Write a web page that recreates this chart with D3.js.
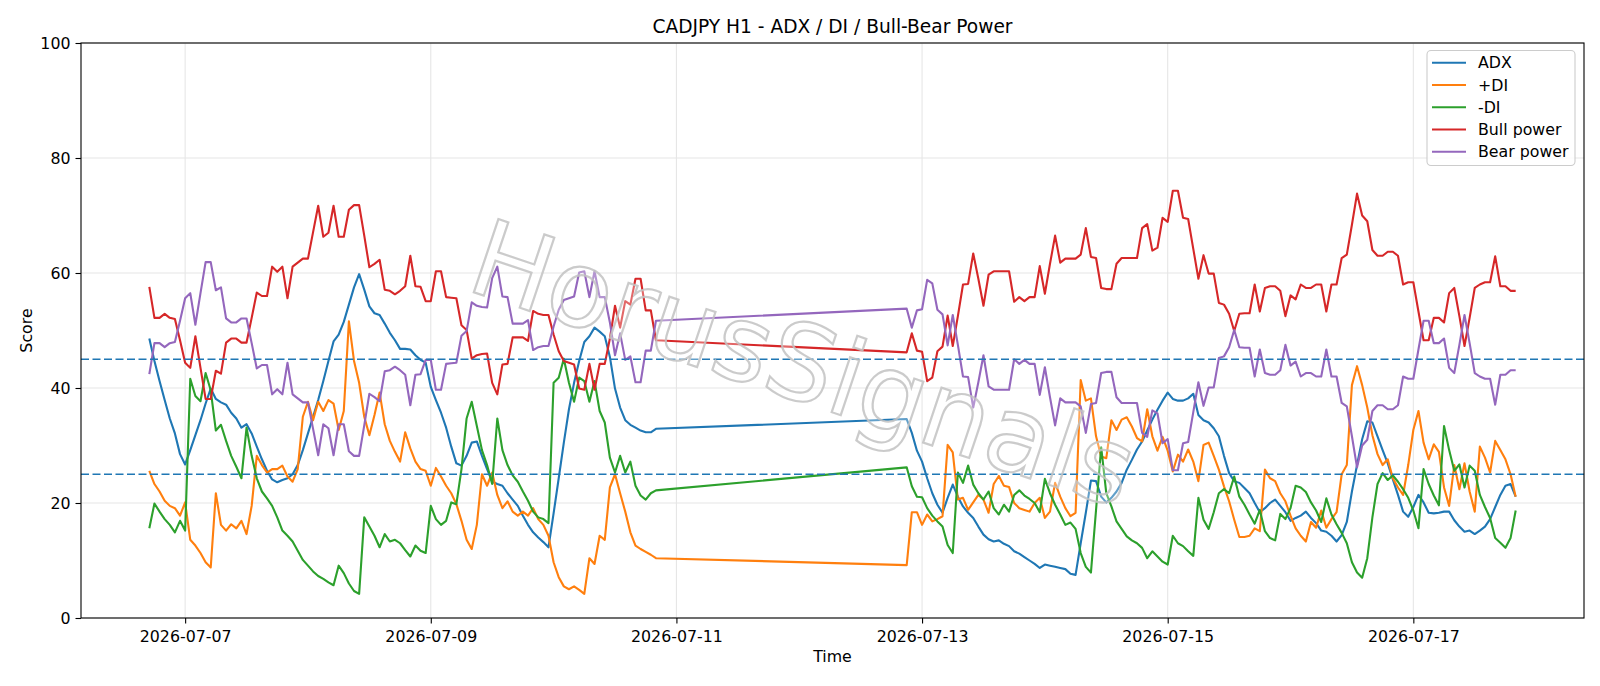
<!DOCTYPE html>
<html><head><meta charset="utf-8">
<script src="https://cdn.jsdelivr.net/npm/d3@7"></script>
<style>body{margin:0;background:#fff}svg{display:block;font-family:"DejaVu Sans",sans-serif}</style>
</head><body><svg id="c" width="1600" height="686"></svg>
<script>
// ---- data ----
const sessionStarts = ["2026-07-06T17:00:00Z", "2026-07-12T21:00:00Z"];
const sessionHours = [100, 120];

const adx = [
48.6,44.7,41.2,37.9,34.7,32.1,28.5,26.7,29.2,31.8,
34.4,37.3,39.9,38.1,37.5,37.1,35.7,34.7,33.1,33.7,
32.1,29.8,27.6,25.6,24.1,23.6,24.0,24.3,25.0,26.6,
29.2,32.1,35.0,37.9,41.2,44.7,48.1,49.3,51.5,54.5,
57.5,59.8,57.1,54.2,53.0,52.7,51.2,49.6,48.3,46.8,
46.8,46.7,45.7,44.9,44.4,40.2,37.9,35.7,33.1,29.8,
26.9,26.5,28.2,30.5,30.7,28.2,25.9,23.7,23.3,23.0,
21.7,20.6,19.5,17.8,16.2,14.9,14.0,13.2,12.3,18.2,
24.3,30.5,36.3,40.9,44.7,48.0,49.0,50.5,49.8,49.0,
45.4,39.9,36.6,34.4,33.6,33.1,32.6,32.3,32.3,32.9,
34.6,32.2,29.1,27.2,24.3,21.7,19.7,18.3,20.9,23.2,
21.1,19.4,18.3,17.4,15.9,14.5,13.7,13.3,13.5,12.9,
12.5,11.6,11.2,10.6,10.0,9.4,8.7,9.3,9.1,8.9,
8.7,8.5,7.7,7.5,13.0,18.3,23.9,23.8,21.1,20.1,
20.9,22.0,23.5,25.8,27.5,29.3,30.7,32.6,34.5,36.2,
37.8,39.2,38.1,37.8,37.8,38.2,39.0,35.3,34.4,34.0,
33.0,31.6,28.2,25.2,23.8,23.5,22.6,21.7,20.0,18.4,
19.1,20.0,20.6,19.5,18.4,16.9,17.4,17.8,18.5,17.4,
16.5,15.2,15.0,14.3,13.3,14.4,16.7,22.0,26.6,31.1,
34.2,34.0,31.6,29.2,26.9,24.1,21.4,18.5,17.6,19.3,
21.4,20.1,18.3,18.2,18.3,18.5,18.5,17.0,15.9,15.0,
15.2,14.6,15.2,15.9,17.2,19.3,21.4,23.0,23.3,21.1];

const plusDI = [
25.6,23.3,22.0,20.4,19.5,19.1,17.8,20.1,13.6,12.6,
11.3,9.7,8.8,21.7,16.2,15.2,16.3,15.6,16.9,14.6,
19.5,28.2,26.6,25.3,25.9,25.9,26.5,24.6,23.7,25.9,
35.0,37.6,34.4,37.6,36.0,37.9,37.3,32.7,36.0,51.6,
44.7,40.9,35.0,31.8,35.3,39.2,33.7,30.8,28.9,27.2,
32.3,29.5,27.2,25.9,25.6,23.0,26.1,24.6,23.0,21.7,
19.8,16.9,13.6,12.0,16.2,25.0,23.0,25.3,21.4,19.1,
20.3,18.5,17.8,18.5,17.8,19.1,17.2,16.2,14.3,9.7,
7.1,5.5,5.0,5.5,4.9,4.2,10.4,9.4,14.3,13.6,
22.7,25.0,21.7,18.5,14.9,12.6,12.0,11.5,11.0,10.4,
9.2,18.4,18.4,16.2,18.0,16.8,17.2,17.7,30.1,28.8,
20.6,20.9,18.8,20.1,21.4,20.6,18.3,23.3,24.7,23.0,
22.8,20.0,19.1,18.8,18.5,20.0,20.9,17.4,18.5,23.5,
21.1,19.1,17.7,18.3,41.4,37.8,38.2,31.6,28.1,27.8,
34.4,32.7,34.5,34.9,33.3,31.3,30.7,36.3,31.6,29.1,
31.5,29.1,25.5,28.4,27.2,29.3,27.2,23.8,30.1,30.5,
28.2,25.8,22.9,20.3,17.1,14.1,14.1,14.3,15.6,15.1,
25.8,24.3,23.8,21.7,20.3,17.8,15.6,14.3,13.3,16.7,
15.7,18.7,15.7,17.2,18.4,25.0,26.6,40.5,43.8,40.5,
36.6,31.8,28.5,26.6,27.6,24.3,22.7,21.4,26.6,32.7,
36.0,30.5,27.6,30.2,28.9,22.7,19.5,26.6,22.4,26.9,
22.0,18.5,29.8,27.9,25.3,30.8,29.2,27.6,25.0,21.1];

const minusDI = [
15.6,19.9,18.5,17.2,16.2,14.9,16.9,15.2,41.6,38.6,
37.7,42.6,39.6,32.6,33.6,30.8,28.2,26.3,24.3,33.1,
28.2,24.3,22.0,20.8,19.5,17.5,15.2,14.3,13.3,11.7,
10.1,9.1,8.1,7.3,6.8,6.2,5.7,9.1,7.8,6.0,
4.7,4.2,17.5,15.9,14.3,12.3,14.6,13.3,13.6,13.0,
11.8,10.7,12.6,11.7,11.3,19.5,17.2,16.2,16.9,20.1,
19.8,25.9,34.7,37.6,33.4,29.2,26.6,23.3,34.7,29.2,
26.6,24.8,23.7,22.0,20.4,18.5,17.5,17.2,16.5,40.9,
41.8,45.1,40.9,37.6,41.8,41.2,37.6,41.2,36.0,34.0,
27.9,25.3,28.2,25.3,27.2,23.0,21.3,20.6,21.7,22.2,
26.2,22.9,21.1,21.0,19.1,17.8,16.8,15.9,12.7,11.3,
25.3,23.5,26.5,23.2,21.7,20.6,22.0,19.1,18.0,19.7,
18.5,21.4,22.2,21.3,20.7,20.0,18.4,24.2,21.7,19.7,
18.0,16.2,16.6,15.5,11.3,8.9,7.9,18.8,29.7,21.7,
19.4,16.8,15.5,14.2,13.5,13.0,12.2,10.4,11.6,10.7,
9.8,9.3,14.3,13.0,12.5,11.6,10.8,20.9,17.1,15.5,
18.4,21.7,22.4,21.7,24.6,21.1,19.7,18.0,16.4,18.8,
15.1,13.9,13.5,18.1,17.2,19.1,23.0,22.7,21.9,20.1,
18.7,16.7,20.8,18.0,16.3,14.8,13.0,9.7,7.9,7.0,
10.4,17.5,23.3,25.2,24.0,24.8,23.7,22.4,20.9,18.7,
15.6,25.9,23.3,21.3,19.6,33.4,29.2,25.6,26.7,22.7,
26.5,25.6,21.4,19.3,17.4,13.9,13.1,12.2,13.9,18.7];

const bullPower = [
57.6,52.2,52.2,52.9,52.2,52.0,48.3,44.4,43.5,49.0,
43.5,38.1,38.1,43.0,42.5,47.9,48.6,48.6,47.9,47.9,
52.2,56.6,56.0,56.0,61.1,60.2,61.1,55.6,61.1,61.8,
62.5,62.5,67.1,71.7,66.3,67.0,71.7,66.3,66.3,71.0,
71.8,71.8,66.5,61.0,61.6,62.3,57.1,56.9,56.3,56.9,
57.7,63.0,57.7,57.6,55.1,55.1,60.3,60.3,55.8,55.7,
55.6,50.9,50.1,45.1,45.7,45.9,46.0,40.9,38.9,44.1,
44.2,48.8,48.8,48.8,48.2,53.4,52.9,52.7,52.7,49.3,
46.4,44.7,44.4,44.1,39.9,39.7,44.2,39.7,44.2,44.2,
48.6,54.3,50.5,55.1,54.5,59.0,59.0,53.5,53.5,48.3,
46.2,49.5,46.5,46.3,41.2,41.8,46.4,47.2,52.6,47.3,
52.5,58.0,58.1,63.4,59.0,54.3,59.7,60.3,60.3,60.3,
60.3,55.0,55.8,55.1,55.8,55.8,61.2,56.4,61.6,66.5,
61.8,62.5,62.5,62.5,63.2,67.8,62.8,62.6,57.4,57.2,
57.2,61.6,62.6,62.6,62.6,62.6,67.8,68.5,63.9,64.4,
69.6,68.9,74.3,74.3,69.6,69.4,64.2,59.0,63.1,59.9,
59.9,54.8,54.5,52.9,49.9,52.9,53.0,53.0,58.0,53.3,
57.4,57.7,57.7,56.9,52.5,56.1,55.4,58.0,57.4,57.4,
58.0,58.0,53.3,58.0,58.0,62.6,63.2,68.4,73.8,70.0,
69.0,64.0,63.0,63.0,63.7,63.7,63.0,58.0,58.4,58.4,
53.3,48.3,48.3,52.2,52.2,51.4,56.5,57.4,52.5,47.3,
52.2,57.4,58.0,58.4,58.4,62.9,57.7,57.7,56.9,56.9];

const bearPower = [
42.4,47.8,47.8,47.1,47.8,48.0,51.7,55.6,56.5,51.0,
56.5,61.9,61.9,57.0,57.5,52.1,51.4,51.4,52.1,52.1,
47.8,43.4,44.0,44.0,38.9,39.8,38.9,44.4,38.9,38.2,
37.5,37.5,32.9,28.3,33.7,33.0,28.3,33.7,33.7,29.0,
28.2,28.2,33.5,39.0,38.4,37.7,42.9,43.1,43.7,43.1,
42.3,37.0,42.3,42.4,44.9,44.9,39.7,39.7,44.2,44.3,
44.4,49.1,49.9,54.9,54.3,54.1,54.0,59.1,61.1,55.9,
55.8,51.2,51.2,51.2,51.8,46.6,47.1,47.3,47.3,50.7,
53.6,55.3,55.6,55.9,60.1,60.3,55.8,60.3,55.8,55.8,
51.4,45.7,49.5,44.9,45.5,41.0,41.0,46.5,46.5,51.7,
53.8,50.5,53.5,53.7,58.8,58.2,53.6,52.8,47.4,52.7,
47.5,42.0,41.9,36.6,41.0,45.7,40.3,39.7,39.7,39.7,
39.7,45.0,44.2,44.9,44.2,44.2,38.8,43.6,38.4,33.5,
38.2,37.5,37.5,37.5,36.8,32.2,37.2,37.4,42.6,42.8,
42.8,38.4,37.4,37.4,37.4,37.4,32.2,31.5,36.1,35.6,
30.4,31.1,25.7,25.7,30.4,30.6,35.8,41.0,36.9,40.1,
40.1,45.2,45.5,47.1,50.1,47.1,47.0,47.0,42.0,46.7,
42.6,42.3,42.3,43.1,47.5,43.9,44.6,42.0,42.6,42.6,
42.0,42.0,46.7,42.0,42.0,37.4,36.8,31.6,26.2,30.0,
31.0,36.0,37.0,37.0,36.3,36.3,37.0,42.0,41.6,41.6,
46.7,51.7,51.7,47.8,47.8,48.6,43.5,42.6,47.5,52.7,
47.8,42.6,42.0,41.6,41.6,37.1,42.3,42.3,43.1,43.1];

const seriesNames = ["ADX", "+DI", "-DI", "Bull power", "Bear power"];
const thresholds = [25, 45];
const yTicks = [0, 20, 40, 60, 80, 100];
const xTickLabels = ["2026-07-07", "2026-07-09", "2026-07-11", "2026-07-13", "2026-07-15", "2026-07-17"];
const titleText = "CADJPY H1 - ADX / DI / Bull-Bear Power";
const watermarkText = "HorusSignals";

// ---- build ----
const times = [];
sessionStarts.forEach((s, i) => {
  const t0 = new Date(s).getTime();
  for (let h = 0; h < sessionHours[i]; h++) times.push(new Date(t0 + h * 3600e3));
});
const allSeries = [adx, plusDI, minusDI, bullPower, bearPower];
const colors = ["#1f77b4", "#ff7f0e", "#2ca02c", "#d62728", "#9467bd"];

const L = 81, R = 1584, T = 43, B = 618;
const svg = d3.select("#c");
const t0 = times[0].getTime(), t1 = times[times.length - 1].getTime();
const pad = (t1 - t0) * 0.05;
const x = d3.scaleUtc().domain([new Date(t0 - pad), new Date(t1 + pad)]).range([L, R]);
const y = d3.scaleLinear().domain([0, 100]).range([B, T]);
const parseDay = d3.utcParse("%Y-%m-%d");
const xTicks = xTickLabels.map(parseDay);

// grid
const grid = svg.append("g").attr("stroke", "#e6e6e6").attr("stroke-width", 1.1);
yTicks.forEach(v => grid.append("line").attr("x1", L).attr("x2", R).attr("y1", y(v)).attr("y2", y(v)));
xTicks.forEach(d => grid.append("line").attr("x1", x(d)).attr("x2", x(d)).attr("y1", T).attr("y2", B));

svg.append("clipPath").attr("id", "clip").append("rect").attr("x", L).attr("y", T).attr("width", R - L).attr("height", B - T);
const plot = svg.append("g").attr("clip-path", "url(#clip)");

const line = d3.line().x(d => x(d[0])).y(d => y(d[1]));
allSeries.forEach((vals, i) => {
  plot.append("path").datum(vals.map((v, k) => [times[k], v]))
    .attr("d", line).attr("fill", "none").attr("stroke", colors[i])
    .attr("stroke-width", 2.1).attr("stroke-linejoin", "round");
});
thresholds.forEach(v => plot.append("line").attr("x1", L).attr("x2", R).attr("y1", y(v)).attr("y2", y(v))
  .attr("stroke", "#1f77b4").attr("stroke-width", 1.5).attr("stroke-dasharray", "8,3.5"));

// axes
const yAxis = svg.append("g").attr("transform", `translate(${L},0)`)
  .call(d3.axisLeft(y).tickValues(yTicks).tickSize(5.5).tickPadding(5).tickFormat(d3.format("d")));
const xAxis = svg.append("g").attr("transform", `translate(0,${B})`)
  .call(d3.axisBottom(x).tickValues(xTicks).tickSize(5.5).tickPadding(7).tickFormat(d3.utcFormat("%Y-%m-%d")));
[yAxis, xAxis].forEach(g => {
  g.select(".domain").remove();
  g.selectAll("line").attr("stroke", "#000").attr("stroke-width", 1.1);
  g.selectAll("text").attr("font-family", "DejaVu Sans").attr("font-size", 15.8).attr("fill", "#000");
});
svg.append("rect").attr("x", L).attr("y", T).attr("width", R - L).attr("height", B - T)
  .attr("fill", "none").attr("stroke", "#000").attr("stroke-width", 1.1);

svg.append("text").attr("x", (L + R) / 2).attr("y", 32.7).attr("text-anchor", "middle")
  .attr("font-size", 18.6).text(titleText);
svg.append("text").attr("x", (L + R) / 2).attr("y", 662).attr("text-anchor", "middle")
  .attr("font-size", 15.8).text("Time");
svg.append("text").attr("transform", `translate(31.5,${(T + B) / 2}) rotate(-90)`).attr("text-anchor", "middle")
  .attr("font-size", 15.8).text("Score");

// watermark
svg.append("text").attr("transform", "translate(464,289) rotate(18.5)")
  .attr("font-size", 106).attr("fill", "#ffffff").attr("fill-opacity", 0.3)
  .attr("stroke", "#c2c2c2").attr("stroke-width", 2.2).attr("stroke-opacity", 0.85)
  .text(watermarkText);

// legend
const lg = svg.append("g");
lg.append("rect").attr("x", 1427).attr("y", 50.5).attr("width", 148).attr("height", 115).attr("rx", 4)
  .attr("fill", "#fff").attr("fill-opacity", 0.8).attr("stroke", "#cccccc").attr("stroke-width", 1.1);
seriesNames.forEach((n, i) => {
  const yy = 62.7 + i * 22.25;
  lg.append("line").attr("x1", 1432).attr("x2", 1466).attr("y1", yy).attr("y2", yy)
    .attr("stroke", colors[i]).attr("stroke-width", 2.1);
  lg.append("text").attr("x", 1478).attr("y", yy + 5.7).attr("font-size", 15.8).text(n);
});
</script></body></html>
